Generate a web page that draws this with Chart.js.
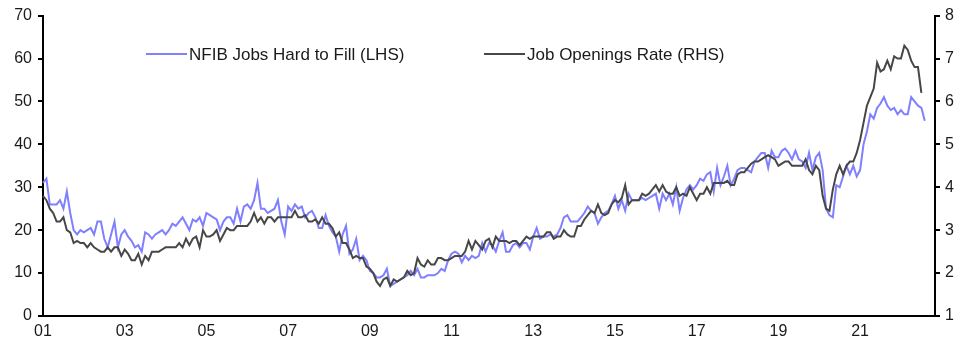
<!DOCTYPE html>
<html>
<head>
<meta charset="utf-8">
<script src="https://cdn.jsdelivr.net/npm/chart.js@4.4.1/dist/chart.umd.min.js"></script>
<style>
  body { margin: 0; background: #fff; }
  #wrap { width: 975px; height: 355px; }
</style>
</head>
<body>
<div id="wrap"><canvas id="chart" width="975" height="355"></canvas></div>
<script>
// monthly, Jan 2001 .. Nov 2022 (axis runs a little past the last point)
var months = [];
for (var y = 2001; y <= 2022; y++) {
    for (var m = 1; m <= 12; m++) {
        if (y == 2022 && m > 11) break;
        months.push(y + '-' + (m < 10 ? '0' + m : m));
    }
}

var tickLabels = ['01', '03', '05', '07', '09', '11', '13', '15', '17', '19', '21'];

var seriesNames = ['NFIB Jobs Hard to Fill (LHS)', 'Job Openings Rate (RHS)'];

// NFIB % of firms with job openings hard to fill, Jan 2001 - Aug 2022
var nfibHardToFill = [
    31, 32, 26, 26, 26, 27, 25, 29, 24, 20, 19, 20,
    19.5, 20, 20.5, 19, 22, 22, 18, 16, 19, 22, 16, 19,
    20, 18.5, 17.5, 16, 16.5, 15, 19.5, 19, 18, 19, 19.5, 20,
    19, 20, 21.5, 21, 22, 23, 21.5, 20, 22.5, 22, 23, 21,
    24, 23.5, 23, 22.5, 20, 22, 23, 23, 21.5, 25, 22, 25.5,
    26, 25, 27, 31, 25, 25, 24, 24.5, 25, 27, 22, 19,
    25.5, 24.5, 26, 25, 25.5, 23, 24, 24.5, 23, 20.5, 20.5, 23.5,
    21, 19.5, 18.5, 15, 19, 21, 14.5, 15.5, 18, 13, 14, 13,
    10.5, 10, 9, 9, 9.5, 11, 7, 7.5, 8, 8.5, 9, 9.5,
    10.5, 9.5, 11, 9, 9, 9.5, 9.5, 9.5, 10, 11, 10.5, 13,
    14.5, 15, 14.5, 12.5, 14, 13, 14, 13.5, 14, 17, 15, 17,
    16.5, 15, 17.5, 19.5, 15, 15, 16.5, 17, 16, 17, 17, 15.5,
    18.5, 20.5, 18, 18.5, 18.5, 19, 18.5, 19, 20.5, 23, 23.5, 22,
    22, 22, 23, 24, 25.5, 24.5, 24, 21.5, 23, 24, 24.5, 26,
    28, 25, 27, 24.5, 28.5, 27, 27, 27, 27.5, 27, 27.5, 28,
    28.5, 25, 28.5, 27, 28.5, 26, 30, 24.5, 27.5, 29.5, 30.5, 29.5,
    30.5, 32, 31.5, 33, 33.5, 29, 34.5, 30.5, 32.5, 35, 30.5, 32,
    34, 34.5, 34.5, 34, 33.5, 36, 37, 38, 38, 34.5, 38.5, 37,
    37, 38.5, 39, 38, 36.5, 38.5, 36.5, 36, 34.5, 38, 34, 37,
    38, 34, 25, 23.5, 23, 30.5, 30, 32.5, 35, 33, 35, 32.5,
    34, 40, 43, 47, 46, 48.5, 49.5, 51, 49, 48, 48.5, 47,
    48, 47, 47, 51, 50, 49, 48.5, 45.5
];

// JOLTS job openings rate %, Jan 2001 - Jul 2022
var jobOpeningsRate = [
    3.8, 3.7, 3.5, 3.4, 3.2, 3.2, 3.3, 3.0, 2.95, 2.7, 2.75, 2.7,
    2.7, 2.6, 2.7, 2.6, 2.55, 2.5, 2.5, 2.6, 2.5, 2.6, 2.6, 2.4,
    2.55, 2.45, 2.3, 2.3, 2.45, 2.2, 2.4, 2.3, 2.5, 2.5, 2.5, 2.55,
    2.6, 2.6, 2.6, 2.6, 2.7, 2.6, 2.8, 2.65, 2.8, 2.85, 2.6, 3.0,
    2.85, 2.85, 2.9, 3.0, 2.75, 2.9, 3.05, 3.0, 3.0, 3.1, 3.1, 3.1,
    3.1, 3.2, 3.4, 3.2, 3.3, 3.15, 3.3, 3.3, 3.2, 3.3, 3.3, 3.3,
    3.3, 3.3, 3.45, 3.3, 3.3, 3.35, 3.2, 3.2, 3.25, 3.15, 3.3, 3.15,
    3.15, 3.05, 2.85, 2.95, 2.7, 2.7, 2.55, 2.35, 2.4, 2.35, 2.35, 2.15,
    2.1, 2.0, 1.8, 1.7, 1.85, 1.9, 1.7, 1.85, 1.8, 1.85, 1.9, 2.05,
    1.95, 2.0, 2.35, 2.2, 2.15, 2.3, 2.2, 2.2, 2.35, 2.35, 2.3, 2.3,
    2.35, 2.4, 2.4, 2.4, 2.5, 2.75, 2.55, 2.75, 2.65, 2.55, 2.75, 2.8,
    2.6, 2.85, 2.75, 2.75, 2.75, 2.7, 2.75, 2.75, 2.65, 2.75, 2.85, 2.8,
    2.85, 2.85, 2.85, 2.85, 2.95, 2.95, 2.8, 2.85, 2.85, 3.0, 2.9, 2.85,
    2.85, 3.1, 3.1, 3.25, 3.35, 3.45, 3.4, 3.6, 3.4, 3.35, 3.4, 3.6,
    3.7, 3.65, 3.75, 4.05, 3.6, 3.7, 3.7, 3.7, 3.85, 3.8, 3.85, 3.95,
    4.05, 3.9, 4.05, 3.9, 3.85, 3.85, 4.0, 3.8, 3.85, 3.8, 4.0, 3.85,
    3.7, 3.85, 3.85, 4.0, 3.85, 4.1, 4.1, 4.1, 4.1, 4.15, 4.05, 4.05,
    4.3, 4.35, 4.35, 4.45, 4.55, 4.6, 4.6, 4.65, 4.7, 4.75, 4.7, 4.65,
    4.5, 4.55, 4.6, 4.6, 4.5, 4.5, 4.5, 4.5, 4.65, 4.4, 4.3, 4.5,
    4.4, 3.8, 3.5, 3.45, 3.95, 4.3, 4.5, 4.3, 4.5, 4.6, 4.6, 4.8,
    5.1, 5.5, 5.9, 6.1, 6.3, 6.9, 6.7, 6.75, 6.95, 6.75, 7.05, 7.0,
    7.0, 7.3, 7.2, 6.95, 6.8, 6.8, 6.2
];

var FONT = "'Liberation Sans', Arial, sans-serif";
var TEXT = '#1a1a1a';

// legend sits inside the plot, two items side by side
var inPlotLegend = {
    id: 'inPlotLegend',
    afterDraw: function(chart) {
        var ctx = chart.ctx;
        var spots = [[146, 187], [484, 525]];
        var yy = 54;
        ctx.save();
        ctx.font = '17px ' + FONT;
        ctx.textBaseline = 'middle';
        ctx.fillStyle = TEXT;
        chart.data.datasets.forEach(function(ds, i) {
            ctx.strokeStyle = ds.borderColor;
            ctx.lineWidth = 2;
            ctx.beginPath();
            ctx.moveTo(spots[i][0], yy);
            ctx.lineTo(spots[i][1], yy);
            ctx.stroke();
            ctx.fillText(ds.label, spots[i][1] + 2, yy + 1);
        });
        ctx.restore();
    }
};

function yAxis(pos, min, max, width) {
    return {
        type: 'linear',
        position: pos,
        min: min,
        max: max,
        grid: { drawOnChartArea: false, drawTicks: true, tickLength: 5, color: '#000', lineWidth: 2 },
        border: { display: true, color: '#000', width: 2 },
        ticks: { stepSize: pos == 'left' ? 10 : 1, padding: pos == 'left' ? 6 : 5, color: TEXT, font: { family: FONT, size: 16 } },
        afterFit: function(scale) { scale.width = width; }
    };
}

var config = {
    type: 'line',
    data: {
        labels: months,
        datasets: [{
            label: seriesNames[0],
            data: nfibHardToFill,
            yAxisID: 'y',
            borderColor: '#7f7fff',
            borderWidth: 2,
            pointRadius: 0,
            tension: 0,
            order: 1
        }, {
            label: seriesNames[1],
            data: jobOpeningsRate,
            yAxisID: 'y1',
            borderColor: '#474747',
            borderWidth: 2,
            pointRadius: 0,
            tension: 0,
            order: 0
        }]
    },
    options: {
        responsive: false,
        animation: false,
        devicePixelRatio: 1,
        layout: { padding: { top: 13, left: 0, right: 0, bottom: 0 } },
        plugins: { legend: { display: false }, tooltip: { enabled: false } },
        scales: {
            x: {
                type: 'category',
                offset: false,
                grid: { display: false, drawTicks: false },
                border: { display: true, color: '#000', width: 2 },
                ticks: {
                    autoSkip: false,
                    maxRotation: 0,
                    padding: 6,
                    color: TEXT,
                    font: { family: FONT, size: 16 },
                    callback: function(val, i) {
                        return i % 24 == 0 ? tickLabels[i / 24] : null;
                    }
                },
                afterFit: function(scale) { scale.height = 39; }
            },
            y: yAxis('left', 0, 70, 43),
            y1: yAxis('right', 1, 8, 40)
        }
    },
    plugins: [inPlotLegend]
};

new Chart(document.getElementById('chart'), config);
</script>
</body>
</html>
